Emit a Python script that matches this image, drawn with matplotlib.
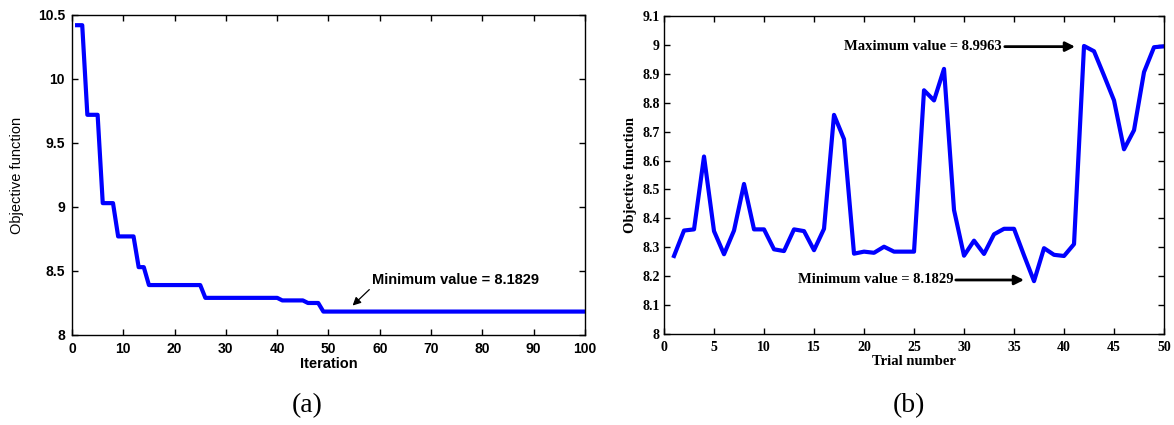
import matplotlib
matplotlib.use("Agg")
import matplotlib.pyplot as plt
from matplotlib.ticker import FuncFormatter

# (a) convergence over iterations
iter_values = ([10.42] * 2 + [9.72] * 3 + [9.03] * 3 + [8.77] * 4 + [8.53] * 2
               + [8.39] * 11 + [8.29] * 15 + [8.27] * 5 + [8.25] * 3 + [8.1829] * 52)
iterations = list(range(1, len(iter_values) + 1))

# (b) objective per trial
trials = list(range(1, 51))
trial_values = [8.27, 8.358, 8.362, 8.614, 8.356, 8.276, 8.358, 8.519, 8.362, 8.362,
                8.293, 8.287, 8.362, 8.356, 8.29, 8.364, 8.758, 8.674, 8.278, 8.285,
                8.281, 8.302, 8.285, 8.285, 8.285, 8.843, 8.808, 8.917, 8.429, 8.271,
                8.323, 8.277, 8.345, 8.364, 8.364, 8.272, 8.1829, 8.297, 8.274, 8.270,
                8.311, 8.9963, 8.978, 8.894, 8.808, 8.639, 8.705, 8.906, 8.992, 8.995]

fig = plt.figure(figsize=(11.74, 4.25), dpi=100)

def g(v, pos):
    return "%g" % round(v, 3)

def style_axes(ax, family, ypad):
    for s in ax.spines.values():
        s.set_linewidth(1.0)
    ax.tick_params(direction="in", top=True, right=True, length=4, width=1.0)
    ax.tick_params(axis="x", pad=5)
    ax.tick_params(axis="y", pad=ypad)
    for lab in ax.get_xticklabels() + ax.get_yticklabels():
        lab.set_fontfamily(family)
        lab.set_fontweight("bold")
        lab.set_fontsize(10)
    ax.yaxis.set_major_formatter(FuncFormatter(g))

# left panel
ax1 = fig.add_axes([0.0613, 0.2118, 0.437, 0.753])
ax1.plot(iterations, iter_values, color="#0000ff", lw=3)
ax1.set_xlim(0, 100)
ax1.set_ylim(8, 10.5)
ax1.set_xticks(range(0, 101, 10))
ax1.set_yticks([8, 8.5, 9, 9.5, 10, 10.5])
style_axes(ax1, "Liberation Sans", 5)
ax1.set_xlabel("Iteration", family="Liberation Sans", fontweight="bold", fontsize=10.5, labelpad=1)
ax1.set_ylabel("Objective function", family="Liberation Sans", fontsize=10.5, labelpad=10)
ax1.annotate("Minimum value = 8.1829", xy=(54.7, 8.23), xytext=(58.5, 8.43),
             family="Liberation Sans", fontweight="bold", fontsize=10.5, va="center",
             arrowprops=dict(arrowstyle="-|>", color="black", lw=0.9,
                             mutation_scale=12, shrinkA=0, shrinkB=0,
                             relpos=(0, 0)))
fig.text(0.262, 0.045, "(a)", family="Liberation Serif", fontsize=20, ha="center", va="center")

# right panel
ax2 = fig.add_axes([0.5656, 0.214, 0.4259, 0.7484])
ax2.plot(trials, trial_values, color="#0000ff", lw=3)
ax2.set_xlim(0, 50)
ax2.set_ylim(8, 9.1)
ax2.set_xticks(range(0, 51, 5))
ax2.set_yticks([8 + 0.1 * i for i in range(12)])
style_axes(ax2, "Liberation Serif", 3)
ax2.set_xlabel("Trial number", family="Liberation Serif", fontweight="bold", fontsize=10.5, labelpad=1)
ax2.set_ylabel("Objective function", family="Liberation Serif", fontweight="bold", fontsize=10.5, labelpad=4)
ax2.annotate("Maximum value = 8.9963", xy=(41.1, 8.994), xytext=(33.8, 8.994),
             family="Liberation Serif", fontweight="bold", fontsize=10.5,
             ha="right", va="center",
             arrowprops=dict(arrowstyle="-|>", color="black", lw=2,
                             mutation_scale=14, shrinkA=0, shrinkB=0))
ax2.annotate("Minimum value = 8.1829", xy=(36.0, 8.187), xytext=(28.9, 8.187),
             family="Liberation Serif", fontweight="bold", fontsize=10.5,
             ha="right", va="center",
             arrowprops=dict(arrowstyle="-|>", color="black", lw=2,
                             mutation_scale=14, shrinkA=0, shrinkB=0))
fig.text(0.774, 0.045, "(b)", family="Liberation Serif", fontsize=20, ha="center", va="center")

fig.savefig("out.png", dpi=100)
